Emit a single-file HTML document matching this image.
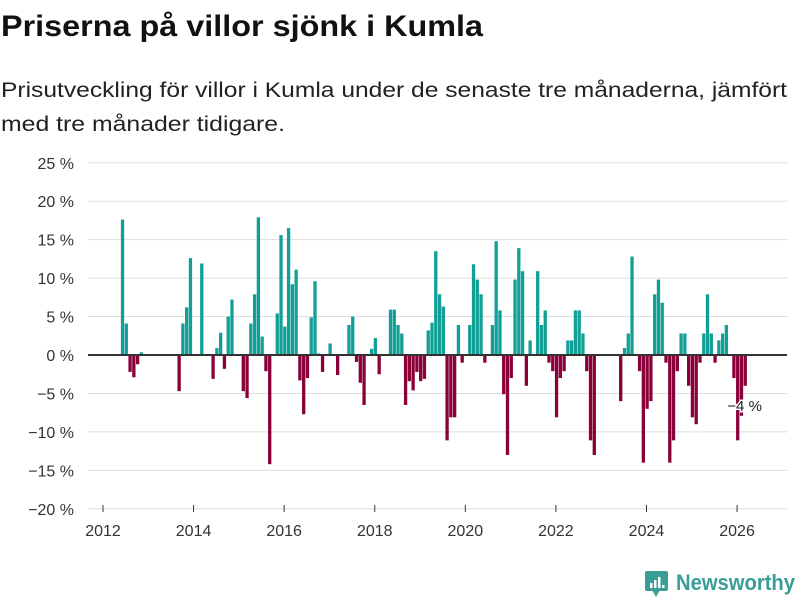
<!DOCTYPE html>
<html><head><meta charset="utf-8"><style>
html,body{margin:0;padding:0;background:#fff;width:800px;height:600px;overflow:hidden}
svg{display:block;font-family:"Liberation Sans","DejaVu Sans",sans-serif}
</style></head><body>
<svg id="chart" width="800" height="600">
<text x="1" y="36" font-size="30" font-weight="bold" fill="#111" textLength="482" lengthAdjust="spacingAndGlyphs">Priserna på villor sjönk i Kumla</text>
<text x="1" y="97" font-size="21" fill="#222" textLength="786" lengthAdjust="spacingAndGlyphs">Prisutveckling för villor i Kumla under de senaste tre månaderna, jämfört</text>
<text x="1" y="131" font-size="21" fill="#222" textLength="284" lengthAdjust="spacingAndGlyphs">med tre månader tidigare.</text>
<g id="grid"></g><g id="bars"></g><g id="axes"></g>
<g>
<rect x="645" y="571" width="23" height="20" rx="2" fill="#3a9e96"/>
<path d="M652 590 L656 597 L660 590 Z" fill="#3a9e96"/>
<rect x="650" y="583" width="2.5" height="5" fill="#fff"/><rect x="654" y="580" width="2.5" height="8" fill="#fff"/><rect x="658" y="577" width="2.5" height="11" fill="#fff"/><rect x="662" y="585" width="2.5" height="3" fill="#fff"/>
<text x="676" y="590" font-size="22" font-weight="bold" fill="#3a9e96" textLength="119" lengthAdjust="spacingAndGlyphs">Newsworthy</text>
</g>
</svg>
<script>
const startYear = 2012, startMonth = 5; // index 0 = June 2012
const values = [17.6,4.1,-2.2,-2.9,-1.2,0.35,null,null,null,null,null,null,null,null,null,-4.7,4.1,6.2,12.6,null,null,11.9,null,null,-3.1,0.9,2.9,-1.8,5.0,7.2,null,null,-4.7,-5.6,4.1,7.9,17.9,2.4,-2.1,-14.2,null,5.4,15.6,3.7,16.5,9.2,11.1,-3.3,-7.7,-3.0,4.9,9.6,0.2,-2.2,null,1.5,null,-2.6,null,null,3.9,5.0,-0.9,-3.6,-6.5,null,0.8,2.2,-2.5,null,null,5.9,5.9,3.9,2.8,-6.5,-3.4,-4.6,-2.2,-3.4,-3.1,3.2,4.2,13.5,7.9,6.3,-11.1,-8.1,-8.1,3.9,-1.0,null,3.9,11.8,9.8,7.9,-1.0,null,3.9,14.8,5.8,-5.1,-13.0,-3.0,9.8,13.9,10.9,-4.0,1.9,null,10.9,3.9,5.8,-1.0,-2.1,-8.1,-3.0,-2.1,1.9,1.9,5.8,5.8,2.8,-2.1,-11.1,-13.0,null,null,null,null,null,null,-6.0,0.9,2.8,12.8,null,-2.1,-14.0,-7.0,-6.0,7.9,9.8,6.8,-1.0,-14.0,-11.1,-2.1,2.8,2.8,-4.0,-8.1,-9.0,-1.0,2.8,7.9,2.8,-1.0,1.9,2.8,3.9,null,-3.0,-11.1,-7.9,-4.0];
const yTicks = [25,20,15,10,5,0,-5,-10,-15,-20];
const xTicks = [2012,2014,2016,2018,2020,2022,2024,2026];
const lastLabel = "−4 %";

const NS="http://www.w3.org/2000/svg";
const yScale = v => 355 - v*7.69;
const xScale = yr => 103 + (yr-2012)*45.29;
function mk(tag, attrs, parent){const e=document.createElementNS(NS,tag);for(const k in attrs)e.setAttribute(k,attrs[k]);parent.appendChild(e);return e;}
const grid=document.getElementById('grid'), bars=document.getElementById('bars'), axes=document.getElementById('axes');
yTicks.forEach(t=>{
  const l=mk('line',{x1:88,x2:787,y1:yScale(t),y2:yScale(t),stroke:'#dedede','stroke-width':1},grid);
  
  
  const tx=mk('text',{x:74,y:yScale(t)+6,'font-size':16,fill:'#333','text-anchor':'end'},axes);
  tx.textContent=(t<0?'−'+(-t):t)+' %';
  
  
});
xTicks.forEach(t=>{
  const l=mk('line',{x1:xScale(t),x2:xScale(t),y1:505,y2:512,stroke:'#333','stroke-width':1},axes);
  
  
  const tx=mk('text',{x:xScale(t),y:536,'font-size':16,fill:'#333','text-anchor':'middle'},axes);
  tx.textContent=t;
  
  
});
let lastI=-1;
values.forEach((v,i)=>{
  if(v===null)return;
  lastI=i;
  const yr=startYear+(startMonth+i)/12;
  const x=xScale(yr)-1;
  const y0=yScale(0), y1=yScale(v);
  const r=mk('rect',{x:x,width:3.3,y:Math.min(y0,y1),height:Math.abs(y1-y0),fill:v>=0?'#12a096':'#8a0038'},bars);
  
  
});
const z=mk('line',{x1:88,x2:787,y1:yScale(0),y2:yScale(0),stroke:'#333','stroke-width':2},axes);


const lx=xScale(startYear+(startMonth+lastI)/12);
const lab=mk('text',{x:lx,y:yScale(values[lastI])+25,'font-size':15,fill:'#222','text-anchor':'middle',stroke:'#fff','stroke-width':3,'paint-order':'stroke'},axes);
lab.textContent=lastLabel;


</script>
</body></html>
